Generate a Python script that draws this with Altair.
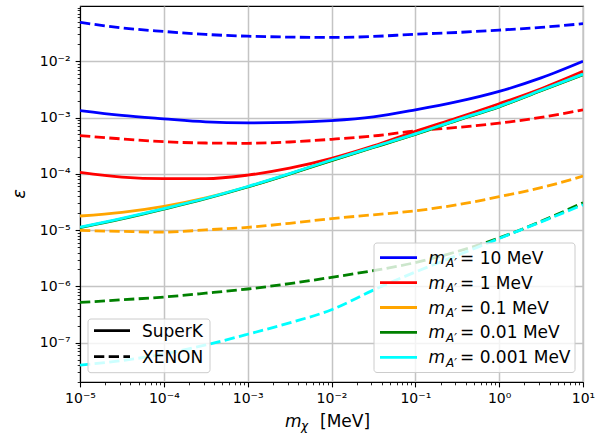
import altair as alt
import pandas as pd

# dark-matter mass grid (MeV), half-decade steps
mchi = [1e-5, 3.16e-5, 1e-4, 3.16e-4, 1e-3, 3.16e-3, 1e-2, 3.16e-2, 1e-1, 3.16e-1, 1.0, 3.16, 10.0]

masses = ["10", "1", "0.1", "0.01", "0.001"]
colors = ["#0000ff", "#ff0000", "#ffa500", "#008000", "#00ffff"]
detectors = ["SuperK", "XENON"]

superk = {
    "10":    [1.33e-3, 1.09e-3, 9.48e-4, 8.38e-4, 8.04e-4, 8.2e-4, 8.83e-4, 1.03e-3, 1.37e-3, 1.91e-3, 2.91e-3, 5.06e-3, 1.0e-2],
    "1":     [1.06e-4, 8.73e-5, 8.2e-5, 8.2e-5, 9.48e-5, 1.26e-4, 1.88e-4, 3.13e-4, 5.68e-4, 9.89e-4, 1.76e-3, 3.25e-3, 6.62e-3],
    "0.1":   [1.78e-5, 2.07e-5, 2.65e-5, 3.76e-5, 5.9e-5, 1.0e-4, 1.74e-4, 2.97e-4, 5.07e-4, 9.02e-4, 1.57e-3, 3.03e-3, 5.85e-3],
    "0.01":  [1.11e-5, 1.58e-5, 2.36e-5, 3.61e-5, 5.83e-5, 9.89e-5, 1.72e-4, 2.94e-4, 5.01e-4, 8.91e-4, 1.55e-3, 3.0e-3, 5.78e-3],
    "0.001": [1.13e-5, 1.62e-5, 2.41e-5, 3.68e-5, 5.96e-5, 1.01e-4, 1.76e-4, 3.0e-4, 5.12e-4, 9.1e-4, 1.58e-3, 3.06e-3, 5.9e-3],
}
xenon = {
    "10":    [4.91e-2, 3.92e-2, 3.39e-2, 3.0e-2, 2.79e-2, 2.69e-2, 2.65e-2, 2.76e-2, 3.03e-2, 3.25e-2, 3.58e-2, 4.0e-2, 4.66e-2],
    "1":     [4.78e-4, 4.17e-4, 3.72e-4, 3.53e-4, 3.49e-4, 3.68e-4, 4.11e-4, 4.71e-4, 5.78e-4, 6.68e-4, 7.94e-4, 1.01e-3, 1.37e-3],
    "0.1":   [9.86e-6, 9.48e-6, 9.2e-6, 1.01e-5, 1.12e-5, 1.32e-5, 1.6e-5, 1.87e-5, 2.2e-5, 2.82e-5, 3.92e-5, 5.68e-5, 9.1e-5],
    "0.01":  [5.18e-7, 5.78e-7, 6.47e-7, 7.57e-7, 8.99e-7, 1.12e-6, 1.45e-6, 1.91e-6, 2.65e-6, 4.17e-6, 7.26e-6, 1.43e-5, 3.06e-5],
    "0.001": [4.0e-8, 4.81e-8, 6.28e-8, 9.1e-8, 1.41e-7, 2.25e-7, 3.84e-7, 8.6e-7, 1.8e-6, 3.55e-6, 7.11e-6, 1.4e-5, 2.82e-5],
}

rows = []
for m in masses:
    for det, table in (("SuperK", superk), ("XENON", xenon)):
        for x, e in zip(mchi, table[m]):
            rows.append({"mchi": x, "eps": e, "mass": m, "det": det})
df = pd.DataFrame(rows)

W, H = 503, 376
FONT = "DejaVu Sans"
DASH = [10.3, 4.4]
LW = 2.8

xticks = [k * 10.0 ** e for e in range(-5, 1) for k in range(1, 10)] + [10.0]
yticks = [k * 10.0 ** e for e in range(-8, -1) for k in range(1, 10)]
yticks = [v for v in yticks if v >= 2e-8]

DEC = "abs(log(datum.value)/LN10 - round(log(datum.value)/LN10)) < 0.001"
SUP = "['10⁻⁸','10⁻⁷','10⁻⁶','10⁻⁵','10⁻⁴','10⁻³','10⁻²','10⁻¹','10⁰','10¹'][round(log(datum.value)/LN10)+8]"
LABEL_EXPR = f"({DEC}) ? {SUP} : ''"


def make_axis(orient):
    return alt.Axis(
        orient=orient,
        values=xticks if orient == "bottom" else yticks,
        labelExpr=LABEL_EXPR,
        title=None,
        labelFont=FONT,
        labelFontSize=14,
        labelColor="black",
        labelPadding=5,
        labelOverlap=False,
        labelFlush=False,
        labelBaseline="top" if orient == "bottom" else "middle",
        domainColor="black",
        domainWidth=1.1,
        tickColor="black",
        tickSize={"condition": {"test": DEC, "value": 4.9}, "value": 2.8},
        tickWidth={"condition": {"test": DEC, "value": 1.1}, "value": 0.85},
        grid=True,
        gridColor="#c4c4c4",
        gridWidth=1.5,
        gridOpacity={"condition": {"test": DEC, "value": 1}, "value": 0},
    )


X = alt.X("mchi:Q", scale=alt.Scale(type="log", domain=[1e-5, 10], nice=False), axis=make_axis("bottom"))
Y = alt.Y("eps:Q", scale=alt.Scale(type="log", domain=[2e-8, 0.096], nice=False), axis=make_axis("left"))

layers = []
for m, c in zip(masses, colors):
    for det in detectors:
        kw = dict(color=c, strokeWidth=LW, interpolate="monotone", clip=True, strokeCap="butt")
        if det == "XENON":
            kw["strokeDash"] = DASH
        layers.append(
            alt.Chart(df)
            .transform_filter((alt.datum.mass == m) & (alt.datum.det == det))
            .mark_line(**kw)
            .encode(x=X, y=Y)
        )

ONE = alt.Data(values=[{"k": 0}])


def txt(s, x, y, size=17, italic=False, angle=0, align="left", baseline="alphabetic"):
    mk = dict(align=align, baseline=baseline, font=FONT, fontSize=size, color="black")
    if italic:
        mk["fontStyle"] = "italic"
    if angle:
        mk["angle"] = angle
    return alt.Chart(ONE).mark_text(**mk).encode(x=alt.value(x), y=alt.value(y), text=alt.value(s))


def frame(x1, x2, y1, y2):
    return alt.Chart(ONE).mark_rect(
        cornerRadius=3, fill="white", fillOpacity=0.8, stroke="#cccccc", strokeWidth=1
    ).encode(x=alt.value(x1), x2=alt.value(x2), y=alt.value(y1), y2=alt.value(y2))


def swatch(x1, x2, y, color, dashed=False):
    kw = dict(color=color, strokeWidth=LW, strokeCap="butt")
    if dashed:
        kw["strokeDash"] = DASH
    return alt.Chart(ONE).mark_rule(**kw).encode(x=alt.value(x1), x2=alt.value(x2), y=alt.value(y))


deco = []
# mass legend (lower right)
deco.append(frame(294, 495, 237, 366.5))
for i, (m, c) in enumerate(zip(masses, colors)):
    yc = 251.7 + i * 24.9
    deco.append(swatch(300, 337, yc, c))
    deco.append(txt("m", 348.5, yc + 6, italic=True))
    deco.append(txt("A′", 366, yc + 9.5, size=12, italic=True))
    deco.append(txt(f"= {m} MeV", 380, yc + 6))

# detector legend (lower left)
deco.append(frame(8, 130, 313, 366.7))
for i, det in enumerate(detectors):
    yc = 324.7 + i * 26
    deco.append(swatch(14, 50, yc, "black", dashed=(det == "XENON")))
    deco.append(txt(det, 62, yc + 6))

# axis titles
deco.append(txt("m", 205, 420.5, italic=True))
deco.append(txt("χ", 221, 424, size=12, italic=True))
deco.append(txt("[MeV]", 240, 420.5))
deco.append(txt("ε", -60, 188, size=18, italic=True, angle=270, align="center", baseline="middle"))

chart = (
    alt.layer(*layers, *deco)
    .properties(
        width=W,
        height=H,
        autosize=alt.AutoSizeParams(type="none"),
        padding={"left": 80, "top": 6, "right": 15, "bottom": 51},
        background="white",
    )
    .configure_view(stroke="black", strokeWidth=1.1)
)

chart.save("out.html", embed_options={"renderer": "svg", "actions": False})
